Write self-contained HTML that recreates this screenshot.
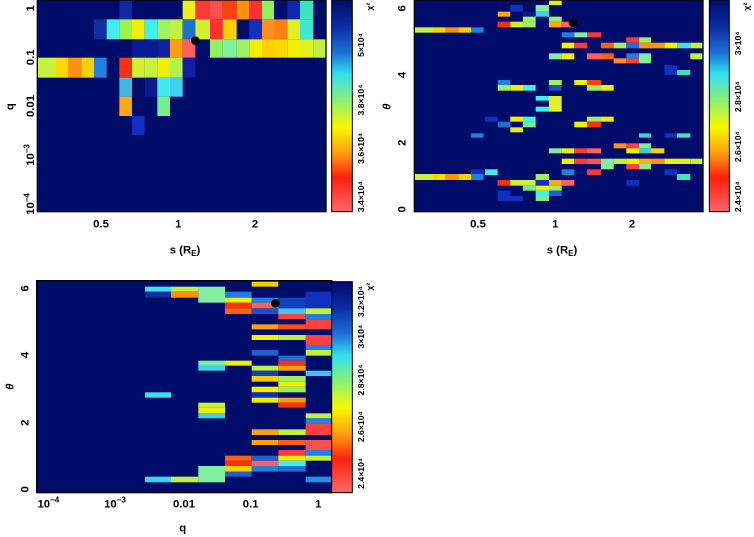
<!DOCTYPE html>
<html><head><meta charset="utf-8"><style>
html,body{margin:0;padding:0;background:#fff;width:754px;height:537px;overflow:hidden}
svg{display:block}
text{font-family:"Liberation Sans",sans-serif;font-weight:bold;fill:#000}
</style></head><body>
<svg width="754" height="537" viewBox="0 0 2262 1611" xmlns="http://www.w3.org/2000/svg">
<defs>
<linearGradient id="cb" x1="0" y1="0" x2="0" y2="1">
<stop offset="0" stop-color="#000c6a"/><stop offset="0.12" stop-color="#0a2aa0"/><stop offset="0.25" stop-color="#2070d8"/><stop offset="0.35" stop-color="#30e0f0"/><stop offset="0.48" stop-color="#90f070"/><stop offset="0.6" stop-color="#f8f800"/><stop offset="0.72" stop-color="#ffa010"/><stop offset="0.84" stop-color="#ff2010"/><stop offset="1" stop-color="#ff6868"/>
</linearGradient>
</defs>

<!-- PANEL 1 -->
<g>
<rect x="112" y="0" width="866" height="635" fill="#000c6a"/>
<g>
<rect x="358" y="0" width="38" height="58" fill="#1028a0"/>
<rect x="548" y="0" width="38" height="58" fill="#e8f020"/>
<rect x="586" y="0" width="44" height="58" fill="#ff3838"/>
<rect x="630" y="0" width="38" height="58" fill="#ff5050"/>
<rect x="668" y="0" width="42" height="58" fill="#ff4010"/>
<rect x="710" y="0" width="38" height="58" fill="#ff9010"/>
<rect x="748" y="0" width="38" height="58" fill="#ff3030"/>
<rect x="786" y="0" width="36" height="58" fill="#90f060"/>
<rect x="862" y="0" width="38" height="58" fill="#1028b0"/>
<rect x="900" y="0" width="40" height="58" fill="#40e0c0"/>

<rect x="282" y="58" width="38" height="60" fill="#1030a0"/>
<rect x="320" y="58" width="38" height="60" fill="#40f0f0"/>
<rect x="358" y="58" width="38" height="60" fill="#a0f050"/>
<rect x="396" y="58" width="38" height="60" fill="#f0f000"/>
<rect x="434" y="58" width="38" height="60" fill="#40f0f0"/>
<rect x="472" y="58" width="38" height="60" fill="#a0f060"/>
<rect x="510" y="58" width="38" height="60" fill="#c0f040"/>
<rect x="548" y="58" width="38" height="60" fill="#2070d0"/>
<rect x="586" y="58" width="44" height="60" fill="#d0f030"/>
<rect x="630" y="58" width="38" height="60" fill="#ff3030"/>
<rect x="668" y="58" width="42" height="60" fill="#ffd000"/>
<rect x="748" y="58" width="38" height="60" fill="#1030c0"/>
<rect x="786" y="58" width="36" height="60" fill="#ff9020"/>
<rect x="822" y="58" width="40" height="60" fill="#ff8010"/>
<rect x="862" y="58" width="38" height="60" fill="#e0f020"/>
<rect x="900" y="58" width="40" height="60" fill="#40e8d0"/>

<rect x="396" y="118" width="76" height="55" fill="#0a1a90"/>
<rect x="472" y="118" width="38" height="55" fill="#1020a0"/>
<rect x="510" y="118" width="38" height="55" fill="#ffa010"/>
<rect x="548" y="118" width="38" height="55" fill="#ff6060"/>
<rect x="630" y="118" width="38" height="55" fill="#90f060"/>
<rect x="668" y="118" width="42" height="55" fill="#80f0a0"/>
<rect x="710" y="118" width="38" height="55" fill="#a0f060"/>
<rect x="748" y="118" width="38" height="55" fill="#f0f000"/>
<rect x="786" y="118" width="36" height="55" fill="#ffd000"/>
<rect x="822" y="118" width="40" height="55" fill="#ffd800"/>
<rect x="862" y="118" width="38" height="55" fill="#f0f000"/>
<rect x="900" y="118" width="40" height="55" fill="#e0f020"/>
<rect x="940" y="118" width="38" height="55" fill="#c0f040"/>

<rect x="112" y="173" width="56" height="60" fill="#c8f040"/>
<rect x="168" y="173" width="38" height="60" fill="#ffd800"/>
<rect x="206" y="173" width="38" height="60" fill="#ff9010"/>
<rect x="244" y="173" width="38" height="60" fill="#ffd000"/>
<rect x="282" y="173" width="38" height="60" fill="#2080e0"/>
<rect x="358" y="173" width="38" height="60" fill="#ff3010"/>
<rect x="396" y="173" width="38" height="60" fill="#d0f030"/>
<rect x="434" y="173" width="38" height="60" fill="#c8f040"/>
<rect x="472" y="173" width="38" height="60" fill="#f0f000"/>
<rect x="510" y="173" width="38" height="60" fill="#b0f050"/>
<rect x="548" y="173" width="38" height="60" fill="#1020a0"/>

<rect x="358" y="233" width="38" height="57" fill="#40b8e0"/>
<rect x="434" y="233" width="38" height="57" fill="#0a1a90"/>
<rect x="472" y="233" width="38" height="57" fill="#40e8f0"/>
<rect x="510" y="233" width="38" height="57" fill="#40d0f0"/>
<rect x="358" y="290" width="38" height="58" fill="#ffa810"/>
<rect x="472" y="290" width="38" height="58" fill="#70f090"/>
<rect x="396" y="348" width="38" height="57" fill="#1030c0"/>
</g>
<circle cx="586" cy="122" r="13" fill="#000"/>
<rect x="112" y="0" width="866" height="635" fill="none" stroke="#000" stroke-width="4"/>
<rect x="995" y="0" width="62" height="635" fill="url(#cb)" stroke="#000" stroke-width="3"/>
<g font-size="34">
<text transform="translate(102,25) rotate(-90)" text-anchor="middle">1</text>
<text transform="translate(102,172) rotate(-90)" text-anchor="middle">0.1</text>
<text transform="translate(102,318) rotate(-90)" text-anchor="middle">0.01</text>
<text transform="translate(102,465) rotate(-90)" text-anchor="middle">10<tspan font-size="24" dy="-14">−3</tspan></text>
<text transform="translate(102,612) rotate(-90)" text-anchor="middle">10<tspan font-size="24" dy="-14">−4</tspan></text>
<text transform="translate(40,320) rotate(-90)" text-anchor="middle">q</text>
<text x="303" y="683" text-anchor="middle">0.5</text>
<text x="535" y="683" text-anchor="middle">1</text>
<text x="765" y="683" text-anchor="middle">2</text>
<text x="555" y="760" text-anchor="middle">s (R<tspan font-size="24" dy="8">E</tspan><tspan dy="-8">)</tspan></text>
</g>
<g font-size="26">
<text transform="translate(1092,590) rotate(-90)" text-anchor="middle">3.4×10⁴</text>
<text transform="translate(1092,445) rotate(-90)" text-anchor="middle">3.6×10⁴</text>
<text transform="translate(1092,300) rotate(-90)" text-anchor="middle">3.8×10⁴</text>
<text transform="translate(1092,135) rotate(-90)" text-anchor="middle">5×10⁴</text>
<text transform="translate(1118,20) rotate(-90)" text-anchor="middle">χ²</text>
</g>
</g>

<!-- PANEL 2 -->
<g transform="translate(1131,0)">
<rect x="112" y="0" width="866" height="635" fill="#000c6a"/>
<g>
<rect x="516" y="0" width="38" height="15" fill="#e0f020"/>
<rect x="400" y="15" width="38" height="20" fill="#1030c0"/>
<rect x="476" y="15" width="40" height="20" fill="#80f0a0"/>
<rect x="362" y="35" width="38" height="15" fill="#ffa810"/>
<rect x="438" y="35" width="38" height="15" fill="#0a1a90"/>
<rect x="476" y="35" width="40" height="15" fill="#40d0f0"/>
<rect x="438" y="50" width="38" height="15" fill="#a0f060"/>
<rect x="516" y="50" width="38" height="15" fill="#a0f060"/>
<rect x="362" y="65" width="38" height="17" fill="#ff3010"/>
<rect x="400" y="65" width="38" height="17" fill="#d0f030"/>
<rect x="438" y="65" width="38" height="17" fill="#a0f060"/>
<rect x="516" y="65" width="38" height="17" fill="#ffa810"/>
<rect x="554" y="65" width="38" height="17" fill="#ff6060"/>
<rect x="112" y="82" width="56" height="16" fill="#c8f040"/>
<rect x="168" y="82" width="38" height="16" fill="#ffd800"/>
<rect x="206" y="82" width="38" height="16" fill="#ff9010"/>
<rect x="244" y="82" width="38" height="16" fill="#ffd000"/>
<rect x="282" y="82" width="38" height="16" fill="#2080e0"/>
<rect x="554" y="97" width="38" height="15" fill="#2080e0"/>
<rect x="592" y="97" width="38" height="15" fill="#80f0a0"/>
<rect x="630" y="97" width="42" height="15" fill="#ff3838"/>
<rect x="748" y="112" width="38" height="16" fill="#ff3838"/>
<rect x="786" y="112" width="36" height="16" fill="#a0f060"/>
<rect x="554" y="128" width="38" height="17" fill="#f0f000"/>
<rect x="592" y="128" width="38" height="17" fill="#ff3838"/>
<rect x="672" y="128" width="38" height="17" fill="#ff6010"/>
<rect x="710" y="128" width="38" height="17" fill="#a0f060"/>
<rect x="748" y="128" width="38" height="17" fill="#2070d0"/>
<rect x="786" y="128" width="76" height="17" fill="#ff9020"/>
<rect x="862" y="128" width="38" height="17" fill="#f0f000"/>
<rect x="900" y="128" width="40" height="17" fill="#40e0e0"/>
<rect x="940" y="128" width="38" height="17" fill="#c0f040"/>
<rect x="516" y="160" width="38" height="18" fill="#80f0a0"/>
<rect x="554" y="160" width="38" height="18" fill="#f0f000"/>
<rect x="630" y="160" width="42" height="18" fill="#ff6060"/>
<rect x="672" y="160" width="38" height="18" fill="#ff6010"/>
<rect x="748" y="160" width="38" height="15" fill="#2080e0"/>
<rect x="786" y="160" width="36" height="30" fill="#80f0a0"/>
<rect x="940" y="160" width="38" height="18" fill="#c0f040"/>
<rect x="710" y="175" width="38" height="15" fill="#ff9020"/>
<rect x="748" y="175" width="38" height="15" fill="#ff4040"/>
<rect x="862" y="195" width="38" height="30" fill="#1030c0"/>
<rect x="900" y="210" width="40" height="15" fill="#40e0c0"/>
<rect x="362" y="240" width="38" height="15" fill="#2080e0"/>
<rect x="516" y="240" width="38" height="15" fill="#a0f060"/>
<rect x="592" y="240" width="38" height="15" fill="#f0f000"/>
<rect x="630" y="240" width="42" height="15" fill="#ff4010"/>
<rect x="362" y="255" width="38" height="17" fill="#a0f060"/>
<rect x="400" y="255" width="38" height="17" fill="#f0f000"/>
<rect x="438" y="255" width="38" height="17" fill="#40f0f0"/>
<rect x="516" y="255" width="38" height="17" fill="#2050c0"/>
<rect x="630" y="255" width="42" height="17" fill="#a0f060"/>
<rect x="672" y="255" width="38" height="17" fill="#f0f000"/>
<rect x="476" y="288" width="40" height="14" fill="#40f0f0"/>
<rect x="516" y="288" width="38" height="47" fill="#e0f020"/>
<rect x="476" y="320" width="40" height="15" fill="#40f0f0"/>
<rect x="324" y="350" width="38" height="15" fill="#1030c0"/>
<rect x="400" y="350" width="38" height="15" fill="#f0f000"/>
<rect x="438" y="350" width="38" height="15" fill="#40f0f0"/>
<rect x="630" y="350" width="42" height="15" fill="#a0f060"/>
<rect x="672" y="350" width="38" height="15" fill="#f0f000"/>
<rect x="362" y="365" width="38" height="17" fill="#2070d0"/>
<rect x="438" y="365" width="38" height="17" fill="#70f090"/>
<rect x="592" y="365" width="38" height="17" fill="#f0f000"/>
<rect x="630" y="365" width="42" height="17" fill="#ff3010"/>
<rect x="400" y="382" width="38" height="15" fill="#e0f020"/>
<rect x="282" y="400" width="38" height="13" fill="#2080e0"/>
<rect x="786" y="400" width="36" height="13" fill="#40d0d0"/>
<rect x="862" y="400" width="38" height="13" fill="#1030c0"/>
<rect x="900" y="400" width="40" height="13" fill="#40e0c0"/>
<rect x="710" y="430" width="38" height="15" fill="#ff9020"/>
<rect x="748" y="430" width="38" height="15" fill="#ff4040"/>
<rect x="786" y="430" width="36" height="15" fill="#80f0a0"/>
<rect x="516" y="445" width="38" height="15" fill="#80f0a0"/>
<rect x="554" y="445" width="38" height="15" fill="#f0f000"/>
<rect x="592" y="445" width="38" height="15" fill="#ff3838"/>
<rect x="630" y="445" width="42" height="15" fill="#ff6060"/>
<rect x="748" y="445" width="38" height="15" fill="#f0f000"/>
<rect x="786" y="445" width="36" height="15" fill="#40d0d0"/>
<rect x="822" y="445" width="40" height="15" fill="#ffd000"/>
<rect x="554" y="476" width="38" height="16" fill="#f0f000"/>
<rect x="592" y="476" width="38" height="16" fill="#ff3838"/>
<rect x="630" y="476" width="42" height="16" fill="#ff5050"/>
<rect x="672" y="476" width="38" height="32" fill="#80f0a0"/>
<rect x="710" y="476" width="38" height="16" fill="#c0f040"/>
<rect x="748" y="476" width="38" height="16" fill="#f0f000"/>
<rect x="786" y="476" width="36" height="16" fill="#ffb000"/>
<rect x="822" y="476" width="40" height="16" fill="#ff9020"/>
<rect x="862" y="476" width="38" height="16" fill="#f0f000"/>
<rect x="900" y="476" width="40" height="16" fill="#e0f020"/>
<rect x="940" y="476" width="38" height="16" fill="#c0f040"/>
<rect x="748" y="492" width="38" height="16" fill="#ff4040"/>
<rect x="786" y="492" width="36" height="16" fill="#80f0a0"/>
<rect x="282" y="508" width="38" height="14" fill="#1030c0"/>
<rect x="324" y="508" width="38" height="17" fill="#40f0f0"/>
<rect x="554" y="508" width="38" height="17" fill="#2080e0"/>
<rect x="630" y="508" width="42" height="17" fill="#ff3838"/>
<rect x="862" y="508" width="38" height="17" fill="#1030c0"/>
<rect x="112" y="522" width="56" height="18" fill="#c8f040"/>
<rect x="168" y="522" width="38" height="18" fill="#ffd800"/>
<rect x="206" y="522" width="38" height="18" fill="#ff9010"/>
<rect x="244" y="522" width="38" height="18" fill="#ffd000"/>
<rect x="282" y="522" width="38" height="18" fill="#2080e0"/>
<rect x="476" y="522" width="40" height="18" fill="#a0f060"/>
<rect x="900" y="522" width="40" height="18" fill="#40e0c0"/>
<rect x="362" y="540" width="38" height="17" fill="#ff3010"/>
<rect x="400" y="540" width="38" height="17" fill="#d0f030"/>
<rect x="438" y="540" width="38" height="17" fill="#c8f040"/>
<rect x="476" y="540" width="40" height="17" fill="#1030c0"/>
<rect x="516" y="540" width="38" height="17" fill="#ffa810"/>
<rect x="554" y="540" width="38" height="17" fill="#ff6060"/>
<rect x="748" y="540" width="38" height="17" fill="#1030c0"/>
<rect x="438" y="557" width="38" height="15" fill="#70f090"/>
<rect x="476" y="557" width="40" height="15" fill="#f0f000"/>
<rect x="516" y="557" width="38" height="15" fill="#a0f060"/>
<rect x="362" y="572" width="38" height="16" fill="#1030c0"/>
<rect x="476" y="572" width="40" height="16" fill="#40f0f0"/>
<rect x="516" y="572" width="38" height="16" fill="#2060d0"/>
<rect x="362" y="588" width="76" height="15" fill="#1030c0"/>
<rect x="476" y="588" width="40" height="15" fill="#70f090"/>
</g>
<circle cx="588" cy="68" r="13" fill="#000"/>
<rect x="112" y="0" width="866" height="635" fill="none" stroke="#000" stroke-width="4"/>
<rect x="997" y="0" width="60" height="635" fill="url(#cb)" stroke="#000" stroke-width="3"/>
<g font-size="34">
<text transform="translate(86,628) rotate(-90)" text-anchor="middle">0</text>
<text transform="translate(86,428) rotate(-90)" text-anchor="middle">2</text>
<text transform="translate(86,225) rotate(-90)" text-anchor="middle">4</text>
<text transform="translate(86,25) rotate(-90)" text-anchor="middle">6</text>
<text transform="translate(40,320) rotate(-90)" text-anchor="middle" font-style="italic">θ</text>
<text x="303" y="683" text-anchor="middle">0.5</text>
<text x="535" y="683" text-anchor="middle">1</text>
<text x="765" y="683" text-anchor="middle">2</text>
<text x="555" y="760" text-anchor="middle">s (R<tspan font-size="24" dy="8">E</tspan><tspan dy="-8">)</tspan></text>
</g>
<g font-size="26">
<text transform="translate(1092,590) rotate(-90)" text-anchor="middle">2.4×10⁴</text>
<text transform="translate(1092,440) rotate(-90)" text-anchor="middle">2.6×10⁴</text>
<text transform="translate(1092,290) rotate(-90)" text-anchor="middle">2.8×10⁴</text>
<text transform="translate(1092,130) rotate(-90)" text-anchor="middle">3×10⁴</text>
<text transform="translate(1118,20) rotate(-90)" text-anchor="middle">χ²</text>
</g>
</g>

<!-- PANEL 3 -->
<g transform="translate(0,810)">
<rect x="110" y="32" width="885" height="636" fill="#000c6a"/>
<g>
<rect x="755" y="35" width="80" height="15" fill="#f0d000"/>
<rect x="435" y="50" width="78" height="15" fill="#40e0f0"/>
<rect x="513" y="50" width="82" height="15" fill="#c0f040"/>
<rect x="595" y="50" width="80" height="48" fill="#80f0a0"/>
<rect x="435" y="65" width="78" height="18" fill="#1030a0"/>
<rect x="513" y="65" width="82" height="18" fill="#ff9010"/>
<rect x="675" y="65" width="80" height="18" fill="#2080e0"/>
<rect x="917" y="65" width="76" height="50" fill="#1030c0"/>
<rect x="675" y="83" width="80" height="15" fill="#f0f000"/>
<rect x="755" y="83" width="80" height="15" fill="#2080e0"/>
<rect x="835" y="83" width="82" height="32" fill="#1040c0"/>
<rect x="675" y="98" width="80" height="17" fill="#ff3010"/>
<rect x="755" y="98" width="80" height="17" fill="#ff6060"/>
<rect x="675" y="115" width="80" height="17" fill="#ff6010"/>
<rect x="755" y="115" width="80" height="17" fill="#2050c0"/>
<rect x="835" y="115" width="82" height="17" fill="#40c8f0"/>
<rect x="917" y="115" width="76" height="17" fill="#c8f040"/>
<rect x="835" y="132" width="82" height="16" fill="#ff4040"/>
<rect x="917" y="132" width="76" height="16" fill="#2080e0"/>
<rect x="917" y="148" width="76" height="30" fill="#ff4040"/>
<rect x="755" y="163" width="80" height="15" fill="#ffa010"/>
<rect x="835" y="163" width="82" height="15" fill="#ff5010"/>
<rect x="755" y="195" width="80" height="15" fill="#f0f000"/>
<rect x="835" y="195" width="82" height="15" fill="#c0f040"/>
<rect x="917" y="195" width="76" height="30" fill="#ff4040"/>
<rect x="917" y="225" width="76" height="15" fill="#2080e0"/>
<rect x="755" y="240" width="80" height="17" fill="#2060d0"/>
<rect x="917" y="240" width="76" height="17" fill="#c0f040"/>
<rect x="835" y="257" width="82" height="15" fill="#2070d0"/>
<rect x="595" y="272" width="80" height="15" fill="#80f0a0"/>
<rect x="675" y="272" width="80" height="15" fill="#f0f000"/>
<rect x="835" y="272" width="82" height="15" fill="#ff3010"/>
<rect x="595" y="287" width="80" height="15" fill="#40d0f0"/>
<rect x="755" y="287" width="80" height="15" fill="#c0f040"/>
<rect x="835" y="287" width="82" height="15" fill="#ffa010"/>
<rect x="755" y="302" width="80" height="16" fill="#1040c0"/>
<rect x="917" y="302" width="76" height="16" fill="#40c0f0"/>
<rect x="755" y="318" width="80" height="17" fill="#f0d000"/>
<rect x="835" y="318" width="82" height="17" fill="#a0f060"/>
<rect x="835" y="335" width="82" height="15" fill="#f0f000"/>
<rect x="755" y="350" width="80" height="17" fill="#f0f000"/>
<rect x="835" y="350" width="82" height="17" fill="#a0f060"/>
<rect x="435" y="367" width="78" height="16" fill="#40e0f0"/>
<rect x="755" y="367" width="80" height="16" fill="#1030c0"/>
<rect x="755" y="383" width="80" height="15" fill="#f0f000"/>
<rect x="835" y="383" width="82" height="15" fill="#ffa010"/>
<rect x="595" y="398" width="80" height="15" fill="#c0f040"/>
<rect x="835" y="398" width="82" height="15" fill="#ff3010"/>
<rect x="595" y="413" width="80" height="17" fill="#f0f000"/>
<rect x="595" y="430" width="80" height="15" fill="#40d0f0"/>
<rect x="917" y="430" width="76" height="15" fill="#c0f040"/>
<rect x="917" y="445" width="76" height="15" fill="#2080e0"/>
<rect x="917" y="460" width="76" height="35" fill="#ff4040"/>
<rect x="755" y="478" width="80" height="17" fill="#ffa010"/>
<rect x="835" y="478" width="82" height="17" fill="#c0f040"/>
<rect x="755" y="510" width="80" height="15" fill="#ffa010"/>
<rect x="835" y="510" width="82" height="15" fill="#ff6010"/>
<rect x="917" y="510" width="76" height="30" fill="#ff5050"/>
<rect x="835" y="540" width="82" height="17" fill="#ff3838"/>
<rect x="917" y="540" width="76" height="17" fill="#2080e0"/>
<rect x="675" y="557" width="80" height="15" fill="#ff6010"/>
<rect x="755" y="557" width="80" height="15" fill="#2060d0"/>
<rect x="835" y="557" width="82" height="15" fill="#f0f000"/>
<rect x="917" y="557" width="76" height="15" fill="#c0f040"/>
<rect x="675" y="572" width="80" height="16" fill="#ff3010"/>
<rect x="755" y="572" width="80" height="16" fill="#ff6060"/>
<rect x="835" y="572" width="82" height="16" fill="#40f0f0"/>
<rect x="595" y="588" width="80" height="49" fill="#80f0a0"/>
<rect x="675" y="588" width="80" height="17" fill="#ffd000"/>
<rect x="755" y="588" width="80" height="17" fill="#2080e0"/>
<rect x="835" y="588" width="82" height="17" fill="#2070d0"/>
<rect x="675" y="605" width="80" height="15" fill="#2060d0"/>
<rect x="435" y="620" width="78" height="17" fill="#40d0f0"/>
<rect x="513" y="620" width="82" height="17" fill="#c0f040"/>
<rect x="917" y="620" width="76" height="17" fill="#2090e0"/>
</g>
<circle cx="826" cy="100" r="13" fill="#000"/>
<rect x="110" y="32" width="885" height="636" fill="none" stroke="#000" stroke-width="4"/>
<rect x="995" y="35" width="62" height="633" fill="url(#cb)" stroke="#000" stroke-width="3"/>
<g font-size="34">
<text transform="translate(86,658) rotate(-90)" text-anchor="middle">0</text>
<text transform="translate(86,458) rotate(-90)" text-anchor="middle">2</text>
<text transform="translate(86,255) rotate(-90)" text-anchor="middle">4</text>
<text transform="translate(86,55) rotate(-90)" text-anchor="middle">6</text>
<text transform="translate(40,350) rotate(-90)" text-anchor="middle" font-style="italic">θ</text>
<text x="145" y="712" text-anchor="middle">10<tspan font-size="24" dy="-14">−4</tspan></text>
<text x="345" y="712" text-anchor="middle">10<tspan font-size="24" dy="-14">−3</tspan></text>
<text x="552" y="712" text-anchor="middle">0.01</text>
<text x="752" y="712" text-anchor="middle">0.1</text>
<text x="955" y="712" text-anchor="middle">1</text>
<text x="548" y="785" text-anchor="middle">q</text>
</g>
<g font-size="26">
<text transform="translate(1092,610) rotate(-90)" text-anchor="middle">2.4×10⁴</text>
<text transform="translate(1092,470) rotate(-90)" text-anchor="middle">2.6×10⁴</text>
<text transform="translate(1092,330) rotate(-90)" text-anchor="middle">2.8×10⁴</text>
<text transform="translate(1092,200) rotate(-90)" text-anchor="middle">3×10⁴</text>
<text transform="translate(1092,95) rotate(-90)" text-anchor="middle">3.2×10⁴</text>
<text transform="translate(1118,50) rotate(-90)" text-anchor="middle">χ²</text>
</g>
</g>
</svg>
</body></html>
